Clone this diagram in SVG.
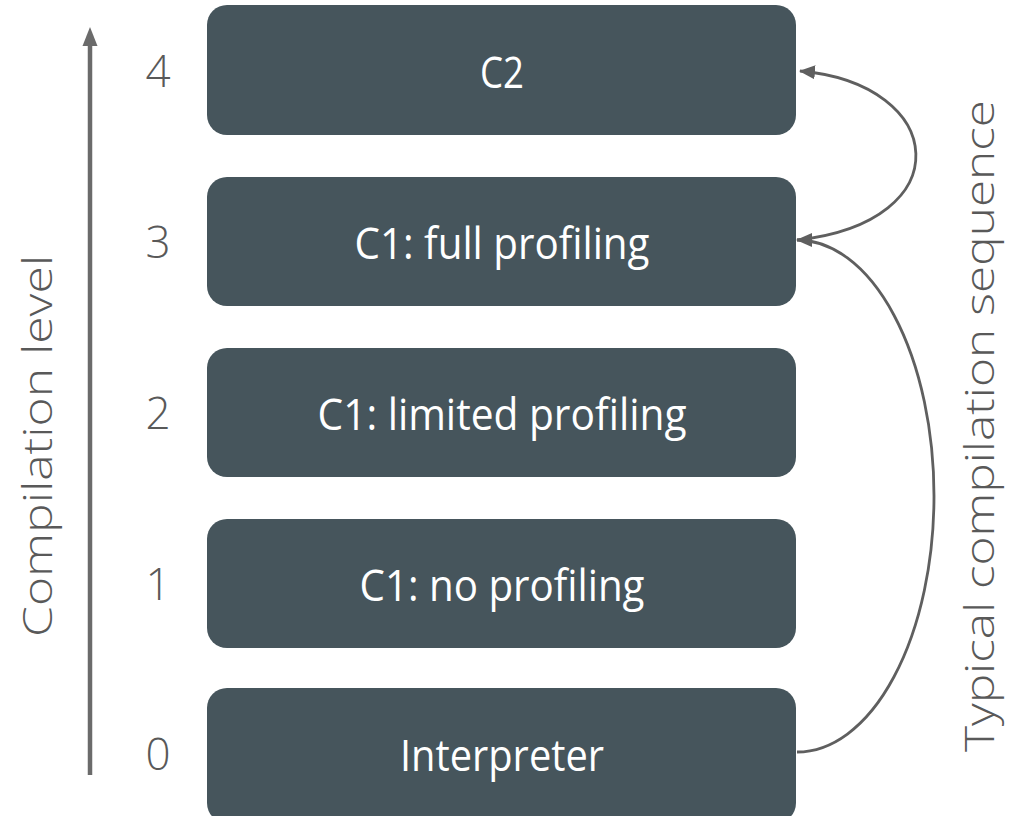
<svg xmlns="http://www.w3.org/2000/svg" width="1014" height="816" viewBox="0 0 1014 816">
  <style>
    .box { fill: #46555c; }
    .label { font-family: "Open Sans", "Liberation Sans", sans-serif; font-size: 44px; fill: #ffffff; text-anchor: middle; }
    .lvl { font-family: "Open Sans", "Liberation Sans", sans-serif; font-size: 44px; fill: #595959; text-anchor: middle; font-weight: 300; }
    .side { font-family: "Open Sans", "Liberation Sans", sans-serif; font-size: 41px; fill: #595959; text-anchor: middle; font-weight: 300; }
    .conn { fill: none; stroke: #5f5f5f; stroke-width: 2.8; }
  </style>
  <defs>
    <marker id="arrow" viewBox="0 0 16 14" refX="15" refY="7" markerWidth="16" markerHeight="14" markerUnits="userSpaceOnUse" orient="auto">
      <path d="M0,0 L16,7 L0,14 z" fill="#5f5f5f"/>
    </marker>
  </defs>
  <rect width="1014" height="816" fill="#ffffff"/>

  <g id="axis">
    <line x1="90" y1="775" x2="90" y2="44" stroke="#6b6b6b" stroke-width="4.5"/>
    <polygon points="90,27 82.5,46 97.5,46" fill="#6b6b6b"/>
    <text class="side" transform="translate(52,446) rotate(-90)" textLength="382" lengthAdjust="spacingAndGlyphs">Compilation level</text>
  </g>

  <g id="levels">
    <text class="lvl" x="158" y="87">4</text>
    <text class="lvl" x="158" y="258">3</text>
    <text class="lvl" x="158" y="429">2</text>
    <text class="lvl" x="158" y="600">1</text>
    <text class="lvl" x="158" y="770">0</text>
  </g>

  <g id="node-c2">
    <rect class="box" x="207" y="5" width="589" height="130" rx="20"/>
    <text class="label" x="502" y="88" textLength="44" lengthAdjust="spacingAndGlyphs">C2</text>
  </g>
  <g id="node-c1-full">
    <rect class="box" x="207" y="177" width="589" height="129" rx="20"/>
    <text class="label" x="502" y="259" textLength="295" lengthAdjust="spacingAndGlyphs">C1: full profiling</text>
  </g>
  <g id="node-c1-limited">
    <rect class="box" x="207" y="348" width="589" height="129" rx="20"/>
    <text class="label" x="502" y="430" textLength="369" lengthAdjust="spacingAndGlyphs">C1: limited profiling</text>
  </g>
  <g id="node-c1-none">
    <rect class="box" x="207" y="519" width="589" height="129" rx="20"/>
    <text class="label" x="502" y="601" textLength="285" lengthAdjust="spacingAndGlyphs">C1: no profiling</text>
  </g>
  <g id="node-interpreter">
    <rect class="box" x="207" y="688" width="589" height="135" rx="20"/>
    <text class="label" x="502" y="771" textLength="204" lengthAdjust="spacingAndGlyphs">Interpreter</text>
  </g>

  <g id="connectors">
    <path class="conn" d="M797,752 A137,256 0 0 0 797,240" marker-end="url(#arrow)"/>
    <path class="conn" d="M797,240 C962,222 948,84 800,71" marker-end="url(#arrow)"/>
  </g>

  <text class="side" transform="translate(994,426) rotate(-90)" textLength="652" lengthAdjust="spacingAndGlyphs">Typical compilation sequence</text>
</svg>
